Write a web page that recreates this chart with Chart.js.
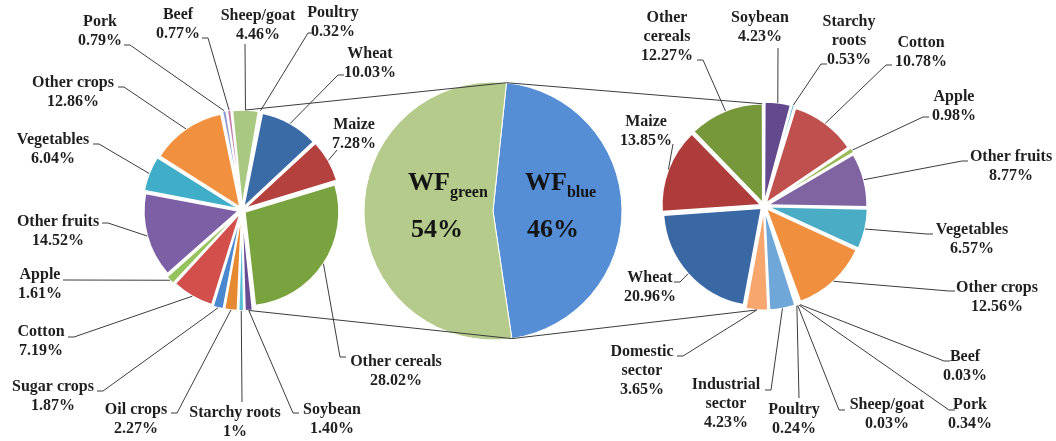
<!DOCTYPE html>
<html lang="en">
<head>
<meta charset="utf-8">
<title>WF green / blue breakdown</title>
<script src="https://cdn.jsdelivr.net/npm/chart.js"></script>
<style>
  body { margin: 0; background: #fff; }
  #wrap { position: relative; width: 1056px; height: 441px; }
  #wrap canvas { position: absolute; left: 0; top: 0; }
</style>
</head>
<body>
<div id="wrap">
  <canvas id="leftPie" width="1056" height="441"></canvas>
  <canvas id="rightPie" width="1056" height="441"></canvas>
  <canvas id="centerPie" width="1056" height="441"></canvas>
</div>
<script>
// WF green breakdown (left pie), clockwise from the top
const greenNames = ['Sheep/goat', 'Poultry', 'Wheat', 'Maize', 'Other cereals', 'Soybean', 'Starchy roots',
  'Oil crops', 'Sugar crops', 'Cotton', 'Apple', 'Other fruits', 'Vegetables', 'Other crops', 'Pork', 'Beef'];
const greenValues = [4.46, 0.32, 10.03, 7.28, 28.02, 1.40, 1, 2.27, 1.87, 7.19, 1.61, 14.52, 6.04, 12.86, 0.79, 0.77];
const greenText = ['4.46%', '0.32%', '10.03%', '7.28%', '28.02%', '1.40%', '1%', '2.27%', '1.87%', '7.19%',
  '1.61%', '14.52%', '6.04%', '12.86%', '0.79%', '0.77%'];
const greenColors = ['#A9C882', '#C6D9F1', '#3A6BA6', '#B5413E', '#79A33E', '#6A4C93', '#5BBFD6', '#E68A32',
  '#4A87CE', '#D24F4C', '#95C25C', '#7D5FA5', '#40AEC8', '#F1913F', '#8D9BD0', '#C47EAB'];

// WF blue breakdown (right pie), clockwise from the top
const blueNames = ['Soybean', 'Starchy\nroots', 'Cotton', 'Apple', 'Other fruits', 'Vegetables', 'Other crops',
  'Beef', 'Pork', 'Sheep/goat', 'Poultry', 'Industrial\nsector', 'Domestic\nsector', 'Wheat', 'Maize', 'Other\ncereals'];
const blueValues = [4.23, 0.53, 10.78, 0.98, 8.77, 6.57, 12.56, 0.03, 0.34, 0.03, 0.24, 4.23, 3.65, 20.96, 13.85, 12.27];
const blueText = ['4.23%', '0.53%', '10.78%', '0.98%', '8.77%', '6.57%', '12.56%', '0.03%', '0.34%', '0.03%',
  '0.24%', '4.23%', '3.65%', '20.96%', '13.85%', '12.27%'];
const blueColors = ['#634A8E', '#3FA7C0', '#C0504D', '#9BBB59', '#8064A2', '#4BACC6', '#F0903E', '#A7B8DA',
  '#B9A6CF', '#C9DAF0', '#9DC3E6', '#6FA7D8', '#F7A66E', '#3A68A4', '#AD3C3A', '#76973A'];

// total split (centre pie)
const totalNames = ['blue', 'green'];
const totalValues = [46, 54];
const totalColors = ['#558ED5', '#B4CB8B'];

// layout: label centre (x, first line y) and leader anchor
const greenLabelPos = [[258, 16], [333, 13], [370, 54], [354, 125], [396, 362], [332, 410], [235, 413],
  [136, 410], [53, 387], [41, 332], [40, 275], [58, 222], [53, 140], [73, 83], [100, 22], [178, 15]];
const greenAnchor = [[245, 44], [314, 33], [344, 75], [337, 150], [346, 357], [299, 413], [242, 402],
  [171, 413], [97, 391], [68, 337], [63, 280], [102, 223], [93, 144], [118, 87], [124, 45], [202, 38]];
const blueLabelPos = [[760, 18], [849, 22], [921, 43], [954, 97], [1011, 157], [972, 230], [997, 288],
  [965, 357], [970, 405], [887, 405], [794, 410], [726, 385], [642, 352], [650, 278], [646, 122], [667, 18]];
const blueAnchor = [[778, 48], [827, 64], [892, 65], [929, 117], [968, 161], [933, 234], [955, 291],
  [950, 361], [955, 410], [845, 410], [799, 398], [765, 390], [677, 356], [674, 282], [673, 144], [697, 60]];
const wfPos = [[525, 190], [408, 190]];
const pctPos = [[553, 237], [437, 237]];

const FONT = '"Liberation Serif", "Times New Roman", serif';

// point on the outer edge of an arc, following Chart.js offset shift
function arcPoint(arc, angle) {
  const p = arc.getProps(['x', 'y', 'startAngle', 'endAngle', 'outerRadius', 'circumference']);
  const off = (arc.options.offset || 0) / 4;
  const half = (p.startAngle + p.endAngle) / 2;
  const fix = 1 - Math.sin(Math.min(Math.PI, p.circumference || 0));
  const t = off + off * fix;
  const a = angle === undefined ? half : angle;
  return {
    x: p.x + Math.cos(half) * t + Math.cos(a) * p.outerRadius,
    y: p.y + Math.sin(half) * t + Math.sin(a) * p.outerRadius
  };
}

function labelPlugin(names, texts, pos, anchors) {
  return {
    id: 'sliceLabels',
    afterDatasetsDraw(chart) {
      const ctx = chart.ctx;
      const arcs = chart.getDatasetMeta(0).data;
      ctx.save();
      ctx.strokeStyle = '#3c3c3c';
      ctx.lineWidth = 1;
      arcs.forEach((arc, i) => {
        const s = arcPoint(arc);
        const [ax, ay] = anchors[i];
        ctx.beginPath();
        ctx.moveTo(s.x, s.y);
        if (Math.abs(s.x - ax) > 12) {
          ctx.lineTo(ax + (s.x > ax ? 6 : -6), ay);
        }
        ctx.lineTo(ax, ay);
        ctx.stroke();
      });
      ctx.fillStyle = '#1f1f1f';
      ctx.font = 'bold 16px ' + FONT;
      ctx.textAlign = 'center';
      ctx.textBaseline = 'middle';
      names.forEach((n, i) => {
        const lines = n.split('\n').concat(texts[i]);
        lines.forEach((t, k) => ctx.fillText(t, pos[i][0], pos[i][1] + k * 19));
      });
      ctx.restore();
    }
  };
}

function makePie(id, values, colors, extra, plugins) {
  return new Chart(document.getElementById(id), {
    type: 'pie',
    data: {
      datasets: [{
        data: values,
        backgroundColor: colors,
        borderColor: '#ffffff',
        borderWidth: extra.border,
        offset: extra.offset,
        clip: false
      }]
    },
    options: {
      responsive: false,
      animation: false,
      devicePixelRatio: 1,
      events: [],
      rotation: extra.rotation,
      radius: extra.radius,
      layout: { padding: extra.padding },
      plugins: { legend: { display: false }, tooltip: { enabled: false } }
    },
    plugins: plugins
  });
}

const leftChart = makePie('leftPie', greenValues, greenColors,
  { border: 1.5, offset: 14, rotation: -6, radius: 94, padding: { left: 0, right: 572, top: 0, bottom: 21 } },
  [labelPlugin(greenNames, greenText, greenLabelPos, greenAnchor)]);

const rightChart = makePie('rightPie', blueValues, blueColors,
  { border: 1.5, offset: 14, rotation: 0, radius: 98, padding: { left: 472, right: 0, top: 0, bottom: 29 } },
  [labelPlugin(blueNames, blueText, blueLabelPos, blueAnchor)]);

const connectorPlugin = {
  id: 'connectors',
  afterDatasetsDraw(chart) {
    const ctx = chart.ctx;
    const c = chart.getDatasetMeta(0).data;
    const l = leftChart.getDatasetMeta(0).data;
    const r = rightChart.getDatasetMeta(0).data;
    const cTop = arcPoint(c[0], c[0].startAngle);
    const cBot = arcPoint(c[0], c[0].endAngle);
    const segs = [
      [arcPoint(l[0]), cTop], [arcPoint(l[5]), cBot],
      [cTop, arcPoint(r[15], r[15].endAngle)], [cBot, arcPoint(r[12])]
    ];
    ctx.save();
    ctx.strokeStyle = '#3c3c3c';
    ctx.lineWidth = 1;
    segs.forEach(([a, b]) => {
      ctx.beginPath();
      ctx.moveTo(a.x, a.y);
      ctx.lineTo(b.x, b.y);
      ctx.stroke();
    });
    // WF labels inside the big pie
    ctx.fillStyle = '#141414';
    totalNames.forEach((n, i) => {
      const [x, y] = wfPos[i];
      ctx.textAlign = 'left';
      ctx.textBaseline = 'alphabetic';
      ctx.font = 'bold 26px ' + FONT;
      ctx.fillText('WF', x, y);
      const w = ctx.measureText('WF').width;
      ctx.font = 'bold 16px ' + FONT;
      ctx.fillText(n, x + w, y + 7);
      ctx.font = 'bold 26px ' + FONT;
      ctx.textAlign = 'center';
      ctx.fillText(totalValues[i] + '%', pctPos[i][0], pctPos[i][1]);
    });
    ctx.restore();
  }
};

const centerChart = makePie('centerPie', totalValues, totalColors,
  { border: 1, offset: 0, rotation: 6, radius: 129, padding: { left: 0, right: 70, top: 0, bottom: 19 } },
  [connectorPlugin]);
</script>
</body>
</html>
